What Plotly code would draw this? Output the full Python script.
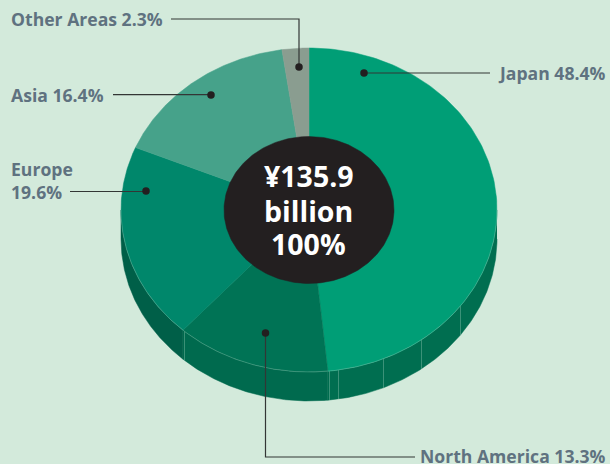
import numpy as np
import plotly.graph_objects as go

# Data
categories = ["Japan", "North America", "Europe", "Asia", "Other Areas"]
shares = [48.4, 13.3, 19.6, 16.4, 2.3]
total_label = ["¥135.9", "billion", "100%"]

top_colors = ["#009e76", "#007355", "#00876b", "#46a28a", "#8a9d90"]
side_colors = ["#006e50", "#006a4e", "#005f48", None, None]

BG = "#d3eadb"
INK = "#231f20"
LABEL = "#5f7280"
SEAM = "rgba(170,215,195,0.5)"
FONT = "Open Sans"

# Geometry of the tilted disc, in plot units (axes span the page 1:1)
CX, CY = 309, 210
RX, RY = 188, 162
HOLE_RX, HOLE_RY = 85, 73.5
DEPTH = 29


def rim(a0, a1, rx=RX, ry=RY, dy=0, n=160):
    """Points on the ellipse between two clockwise-from-top angles (deg)."""
    t = np.radians(np.linspace(a0, a1, n))
    return CX + rx * np.sin(t), CY + dy - ry * np.cos(t)


fig = go.Figure()


def poly(x, y, color):
    fig.add_trace(go.Scatter(
        x=list(x), y=list(y), mode="lines", fill="toself", fillcolor=color,
        line=dict(width=0.5, color=color), hoverinfo="skip", showlegend=False))


def seg(x, y, color, w=1.0):
    fig.add_trace(go.Scatter(
        x=list(x), y=list(y), mode="lines", line=dict(width=w, color=color),
        hoverinfo="skip", showlegend=False))


edges = 3.6 * np.concatenate([[0], np.cumsum(shares)])

# Extruded side (only the front half of the rim, 90..270 deg)
for i in range(len(shares)):
    if side_colors[i] is None:
        continue
    a0, a1 = max(edges[i], 90), min(edges[i + 1], 270)
    x0, y0 = rim(a0, a1)
    x1, y1 = rim(a0, a1, dy=DEPTH)
    poly(np.r_[x0, x1[::-1]], np.r_[y0, y1[::-1]], side_colors[i])

# Seams on the side wall
seam_x = [460.5, 421.5, 383.5, 338.5, 329.5, 184.5]
for sx in seam_x:
    t = np.arcsin((sx - CX) / RX)
    top = CY + RY * np.cos(t)
    seg([sx, sx], [top, top + DEPTH], SEAM, 0.7)

# Top faces
for i in range(len(shares)):
    x, y = rim(edges[i], edges[i + 1])
    poly(np.r_[CX, x, CX], np.r_[CY, y, CY], top_colors[i])

# Thin light edge along the front of the top face
x, y = rim(90, 270, n=300)
seg(x, y, SEAM, 0.6)

# Centre disc
x, y = rim(0, 360, HOLE_RX, HOLE_RY, n=240)
poly(x, y, INK)

# Leaders: polyline plus the dot that sits on the slice
leaders = [
    ([171, 299, 299], [19, 19, 67], (299, 67)),
    ([113, 211], [94.6, 94.6], (211, 95)),
    ([70, 146], [191.5, 191.5], (146, 191)),
    ([265.5, 265.5, 415], [333, 457, 457], (265.5, 333)),
    ([364, 490], [73, 73], (364, 73)),
]
for lx, ly, dot in leaders:
    seg(lx, ly, "#333635", 1.2)
    fig.add_trace(go.Scatter(
        x=[dot[0]], y=[dot[1]], mode="markers", marker=dict(size=7.5, color=INK),
        hoverinfo="skip", showlegend=False))

# Labels
labels = [
    ("Other Areas 2.3%", 9, 19, "left"),
    ("Asia 16.4%", 9, 95, "left"),
    ("Europe<br>19.6%", 9, 180, "left"),
    ("North America 13.3%", 608, 456, "right"),
    ("Japan 48.4%", 608, 73, "right"),
]
ann = [dict(x=x, y=y, text=t, xanchor=a, yanchor="middle", showarrow=False, align="left",
            font=dict(family=FONT, size=17.6, color=LABEL, weight="bold"), xref="x", yref="y")
       for t, x, y, a in labels]
for line, y in zip(total_label, [176, 211, 244]):
    ann.append(dict(x=308.5, y=y, text=line, showarrow=False, xanchor="center", yanchor="middle",
                    font=dict(family=FONT, size=28.5, color="white", weight="bold"),
                    xref="x", yref="y"))

fig.update_layout(
    width=610, height=464, margin=dict(l=0, r=0, t=0, b=0),
    paper_bgcolor=BG, plot_bgcolor=BG, showlegend=False, annotations=ann,
    xaxis=dict(range=[0, 610], visible=False, fixedrange=True),
    yaxis=dict(range=[464, 0], visible=False, fixedrange=True),
)
fig.write_html("out.html", config=dict(displayModeBar=False),
               post_script="document.body.style.margin='0';")
